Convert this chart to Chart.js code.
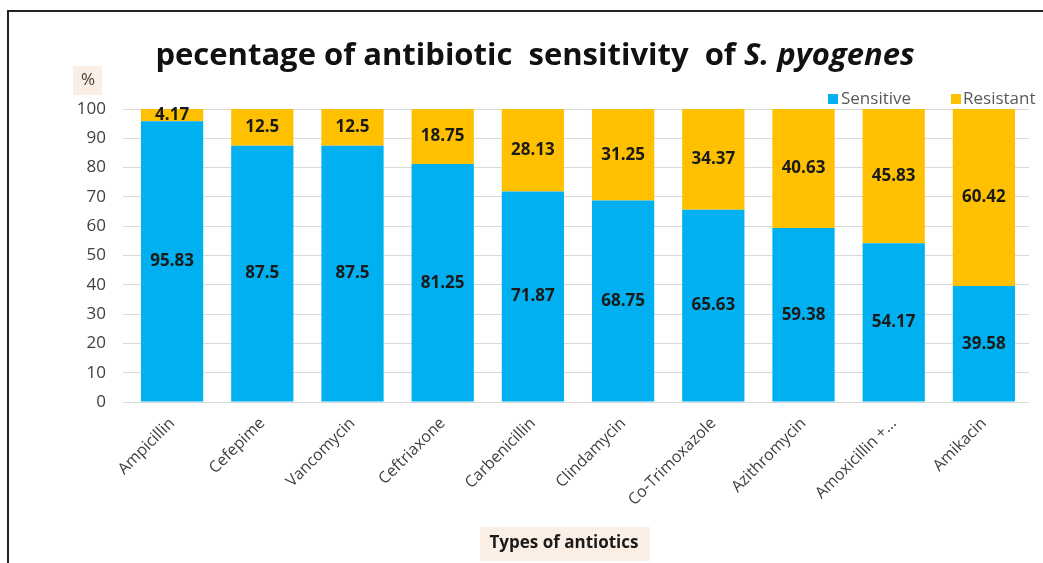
<!DOCTYPE html>
<html>
<head>
<meta charset="utf-8">
<script src="https://cdn.jsdelivr.net/npm/chart.js@4.4.1/dist/chart.umd.min.js"></script>
<style>
  html, body { margin: 0; padding: 0; background: #ffffff; }
  #wrap { position: relative; width: 1043px; height: 563px; overflow: hidden; }
  #frame { position: absolute; left: 7px; top: 10px; width: 1100px; height: 600px;
           border-top: 2px solid #222; border-left: 2px solid #222; pointer-events: none; }
  canvas { position: absolute; left: 0; top: 0; }
</style>
</head>
<body>
<div id="wrap">
  <canvas id="c" width="1043" height="563"></canvas>
  <div id="frame"></div>
</div>
<script>
// Antibiotic sensitivity of S. pyogenes (%)
const categories = ["Ampicillin", "Cefepime", "Vancomycin", "Ceftriaxone", "Carbenicillin",
                    "Clindamycin", "Co-Trimoxazole", "Azithromycin", "Amoxicillin +...", "Amikacin"];
const sensitive = [95.83, 87.5, 87.5, 81.25, 71.87, 68.75, 65.63, 59.38, 54.17, 39.58];
const resistant = [4.17, 12.5, 12.5, 18.75, 28.13, 31.25, 34.37, 40.63, 45.83, 60.42];
const yTicks = [0, 10, 20, 30, 40, 50, 60, 70, 80, 90, 100];
const seriesNames = ["Sensitive", "Resistant"];

const BLUE = "#00B0F0";
const ORANGE = "#FFC000";
const FONT = '"Open Sans", "DejaVu Sans", sans-serif';

// Value labels centred inside each bar segment
const valueLabels = {
  id: "valueLabels",
  afterDatasetsDraw(chart) {
    const ctx = chart.ctx;
    ctx.save();
    ctx.font = "bold 17px " + FONT;
    ctx.fillStyle = "#1a1a1a";
    ctx.textAlign = "center";
    ctx.textBaseline = "middle";
    chart.data.datasets.forEach((ds, di) => {
      chart.getDatasetMeta(di).data.forEach((bar, i) => {
        const p = bar.getProps(["x", "y", "base"], true);
        ctx.fillText(String(ds.data[i]), p.x, (p.y + p.base) / 2);
      });
    });
    ctx.restore();
  }
};

// Title, legend and axis captions
const decorations = {
  id: "decorations",
  afterDraw(chart) {
    const ctx = chart.ctx;
    ctx.save();

    // Title with italic species name
    const t1 = "pecentage of antibiotic  sensitivity  of ";
    const t2 = "S. pyogenes";
    const f1 = "bold 31px " + FONT;
    const f2 = "italic bold 31px " + FONT;
    ctx.font = f1; const w1 = ctx.measureText(t1).width;
    ctx.font = f2; const w2 = ctx.measureText(t2).width;
    const tx = 535 - (w1 + w2) / 2;
    ctx.fillStyle = "#111";
    ctx.textBaseline = "alphabetic";
    ctx.textAlign = "left";
    ctx.font = f1; ctx.fillText(t1, tx, 65);
    ctx.font = f2; ctx.fillText(t2, tx + w1, 65);

    // Legend
    ctx.font = "17px " + FONT;
    ctx.textBaseline = "middle";
    ctx.fillStyle = BLUE;   ctx.fillRect(828, 94, 10, 10);
    ctx.fillStyle = "#595959"; ctx.fillText(seriesNames[0], 841, 99);
    ctx.fillStyle = ORANGE; ctx.fillRect(951, 94, 10, 10);
    ctx.fillStyle = "#595959"; ctx.fillText(seriesNames[1], 963, 99);

    // Y axis caption
    ctx.fillStyle = "#FBEEE4";
    ctx.fillRect(73, 66, 29, 29);
    ctx.fillStyle = "#404040";
    ctx.font = "17px " + FONT;
    ctx.textAlign = "center";
    ctx.fillText("%", 88, 80);

    // X axis caption
    ctx.fillStyle = "#FBEEE4";
    ctx.fillRect(480, 527, 170, 34);
    ctx.fillStyle = "#1a1a1a";
    ctx.font = "bold 17px " + FONT;
    ctx.fillText("Types of antiotics", 564, 543);
    ctx.restore();
  }
};

new Chart(document.getElementById("c"), {
  type: "bar",
  data: {
    labels: categories,
    datasets: [
      { label: seriesNames[0], data: sensitive, backgroundColor: BLUE, borderWidth: 0,
        categoryPercentage: 1, barPercentage: 0.69 },
      { label: seriesNames[1], data: resistant, backgroundColor: ORANGE, borderWidth: 0,
        categoryPercentage: 1, barPercentage: 0.69 }
    ]
  },
  options: {
    responsive: false,
    animation: false,
    layout: { padding: { top: 109, right: 14, bottom: 0, left: 0 } },
    plugins: { legend: { display: false }, title: { display: false }, tooltip: { enabled: false } },
    scales: {
      x: {
        stacked: true,
        grid: { display: false },
        border: { display: false },
        ticks: {
          color: "#404040",
          font: { family: FONT, size: 16 },
          minRotation: 45, maxRotation: 45,
          padding: 4
        },
        afterFit(scale) { scale.height = 161; }
      },
      y: {
        stacked: true,
        min: 0, max: 100,
        afterBuildTicks(scale) { scale.ticks = yTicks.map(v => ({ value: v })); },
        grid: { color: "#d9d9d9", lineWidth: 1, tickLength: 4, drawTicks: true },
        border: { display: false },
        ticks: {
          color: "#404040",
          font: { family: FONT, size: 17 },
          padding: 17
        },
        afterFit(scale) { scale.width = 127; }
      }
    }
  },
  plugins: [valueLabels, decorations]
});
</script>
</body>
</html>
